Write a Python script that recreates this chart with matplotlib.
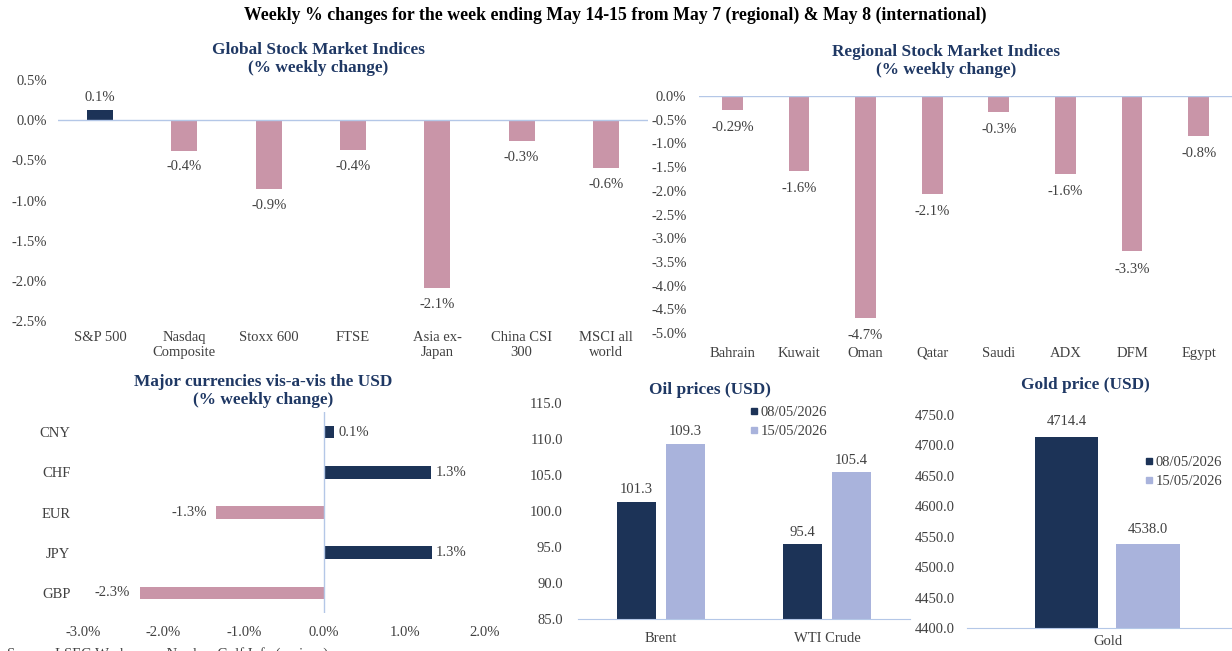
import matplotlib
matplotlib.use("Agg")
import matplotlib.pyplot as plt
from matplotlib.lines import Line2D

# data
global_names = ["S&P 500", "Nasdaq\nComposite", "Stoxx 600", "FTSE", "Asia ex-\nJapan", "China CSI\n300", "MSCI all\nworld"]
global_chg = [0.13, -0.38, -0.86, -0.37, -2.09, -0.26, -0.60]

regional_names = ["Bahrain", "Kuwait", "Oman", "Qatar", "Saudi", "ADX", "DFM", "Egypt"]
regional_chg = [-0.29, -1.59, -4.68, -2.06, -0.33, -1.64, -3.28, -0.84]
regional_labels = ["-0.29%", "-1.6%", "-4.7%", "-2.1%", "-0.3%", "-1.6%", "-3.3%", "-0.8%"]

fx_names = ["CNY", "CHF", "EUR", "JPY", "GBP"]
fx_chg = [0.12, 1.33, -1.34, 1.34, -2.29]

oil_names = ["Brent", "WTI Crude"]
oil_prev = [101.3, 95.4]
oil_curr = [109.3, 105.4]

gold_names = ["Gold"]
gold_prev = [4714.4]
gold_curr = [4538.0]

dates = ["08/05/2026", "15/05/2026"]

NAVY = "#1c3357"
LIGHT = "#a9b3dc"
PINK = "#c995a8"
TITLE = "#1f3864"
TXT = "#404040"
AXIS = "#b4c7e7"

plt.rcParams["font.family"] = ["Liberation Serif", "DejaVu Serif"]
plt.rcParams["font.size"] = 10.5

W, H = 1232, 651
fig = plt.figure(figsize=(W / 100, H / 100), dpi=100)


def px_axes(l, t, r, b):
    return fig.add_axes([l / W, 1 - b / H, (r - l) / W, (b - t) / H])


def clean(ax, pad_x=4, pad_y=4):
    for s in ax.spines.values():
        s.set_visible(False)
    ax.tick_params(length=0, colors=TXT, labelsize=10.5)
    ax.tick_params(axis="x", pad=pad_x)
    ax.tick_params(axis="y", pad=pad_y)


def ftext(x, y, s, **kw):
    fig.text(x / W, 1 - y / H, s, ha="center", va="center", **kw)


ftext(615, 15, "Weekly % changes for the week ending May 14-15 from May 7 (regional) & May 8 (international)",
      fontsize=12.8, fontweight="bold", color="black")

# Global stock market indices
ax = px_axes(58, 80, 648, 321)
clean(ax, pad_x=7, pad_y=8)
cols = [NAVY if v >= 0 else PINK for v in global_chg]
ax.bar(range(len(global_names)), global_chg, width=0.31, color=cols)
ax.axhline(0, color=AXIS, lw=1)
ax.set_xlim(-0.5, 6.5)
ax.set_ylim(-2.5, 0.5)
gt_ = [0.5, 0.0, -0.5, -1.0, -1.5, -2.0, -2.5]
ax.set_yticks(gt_)
ax.set_yticklabels([f"{t:.1f}%" for t in gt_])
ax.set_xticks(range(len(global_names)))
ax.set_xticklabels(global_names, linespacing=1.25)
for i, v in enumerate(global_chg):
    if v >= 0:
        ax.annotate(f"{v:.1f}%", (i, v), xytext=(0, 4), textcoords="offset points",
                    ha="center", va="bottom", color=TXT)
    else:
        ax.annotate(f"{v:.1f}%", (i, v), xytext=(0, -7), textcoords="offset points",
                    ha="center", va="top", color=TXT)
ftext(318, 59, "Global Stock Market Indices\n(% weekly change)", fontsize=12.4, fontweight="bold",
      color=TITLE, linespacing=1.15)

# Regional stock market indices
ax = px_axes(699, 96, 1232, 333)
clean(ax, pad_x=10, pad_y=9)
ax.bar(range(len(regional_names)), regional_chg, width=0.31, color=PINK)
ax.axhline(0, color=AXIS, lw=1)
ax.set_xlim(-0.5, 7.5)
ax.set_ylim(-5.0, 0.0)
rt = [0.0 - 0.5 * k for k in range(11)]
ax.set_yticks(rt)
ax.set_yticklabels([f"{t:.1f}%" for t in rt])
ax.set_xticks(range(len(regional_names)))
ax.set_xticklabels(regional_names)
for i, v in enumerate(regional_chg):
    ax.annotate(regional_labels[i], (i, v), xytext=(0, -8), textcoords="offset points",
                ha="center", va="top", color=TXT)
ftext(946, 61, "Regional Stock Market Indices\n(% weekly change)", fontsize=12.4, fontweight="bold",
      color=TITLE, linespacing=1.15)

# Currencies
ax = px_axes(83, 412, 485, 613)
clean(ax, pad_x=9, pad_y=9)
cols = [NAVY if v >= 0 else PINK for v in fx_chg]
ax.barh(range(len(fx_names)), fx_chg, height=0.31, color=cols)
ax.axvline(0, color=AXIS, lw=1)
ax.set_xlim(-3, 2)
ax.set_ylim(len(fx_names) - 0.5, -0.5)
xt = [-3.0, -2.0, -1.0, 0.0, 1.0, 2.0]
ax.set_xticks(xt)
ax.set_xticklabels([f"{t:.1f}%" for t in xt])
ax.set_yticks(range(len(fx_names)))
ax.set_yticklabels(fx_names)
for i, v in enumerate(fx_chg):
    if v >= 0:
        ax.annotate(f"{v:.1f}%", (v, i), xytext=(3, 0), textcoords="offset points",
                    ha="left", va="center", color=TXT)
    else:
        ax.annotate(f"{v:.1f}%", (v, i), xytext=(-7, 0), textcoords="offset points",
                    ha="right", va="center", color=TXT)
ftext(263, 391, "Major currencies vis-a-vis the USD\n(% weekly change)", fontsize=12.4, fontweight="bold",
      color=TITLE, linespacing=1.15)


def legend(ax, loc_xy):
    handles = [Line2D([], [], marker="s", ls="none", color=NAVY, markersize=5),
               Line2D([], [], marker="s", ls="none", color=LIGHT, markersize=5)]
    ax.legend(handles, dates, loc="upper left", bbox_to_anchor=loc_xy, bbox_transform=fig.transFigure,
              frameon=False, handlelength=0.6, handletextpad=0.2, labelspacing=0.35,
              borderpad=0, fontsize=10.5, labelcolor=TXT)


# Oil prices
ax = px_axes(578, 403, 910, 619)
clean(ax, pad_x=9, pad_y=11)
xs = range(len(oil_names))
ax.bar([x - 0.148 for x in xs], oil_prev, width=0.23, color=NAVY)
ax.bar([x + 0.148 for x in xs], oil_curr, width=0.23, color=LIGHT)
ax.spines["bottom"].set_visible(True)
ax.spines["bottom"].set_color(AXIS)
ax.set_xlim(-0.5, 1.5)
ax.set_ylim(85, 115)
yt = [85 + 5 * k for k in range(7)]
ax.set_yticks(yt)
ax.set_yticklabels([f"{t:.1f}" for t in yt])
ax.set_xticks(list(xs))
ax.set_xticklabels(oil_names)
for i in xs:
    for dx, v in ((-0.148, oil_prev[i]), (0.148, oil_curr[i])):
        ax.annotate(f"{v:.1f}", (i + dx, v), xytext=(0, 4), textcoords="offset points",
                    ha="center", va="bottom", color=TXT)
ftext(710, 390, "Oil prices (USD)", fontsize=12.4, fontweight="bold", color=TITLE)
legend(ax, (742 / W, 1 - 399 / H))

# Gold price
ax = px_axes(967, 415, 1232, 628)
clean(ax, pad_x=5, pad_y=8.5)
ax.bar([-0.153], gold_prev, width=0.238, color=NAVY)
ax.bar([0.153], gold_curr, width=0.238, color=LIGHT)
ax.spines["bottom"].set_visible(True)
ax.spines["bottom"].set_color(AXIS)
ax.set_xlim(-0.53, 0.47)
ax.set_ylim(4400, 4750)
gt = [4400 + 50 * k for k in range(8)]
ax.set_yticks(gt)
ax.set_yticklabels([f"{t:.1f}" for t in gt])
ax.set_xticks([0])
ax.set_xticklabels(gold_names)
for dx, v in ((-0.153, gold_prev[0]), (0.153, gold_curr[0])):
    ax.annotate(f"{v:.1f}", (dx, v), xytext=(0, 6), textcoords="offset points",
                ha="center", va="bottom", color=TXT)
ftext(1085, 385, "Gold price (USD)", fontsize=12.4, fontweight="bold", color=TITLE)
legend(ax, (1137 / W, 1 - 449 / H))

# source line, cut by the bottom edge as in the original
fig.text(7 / W, 1 - 647 / H, "Source: LSEG Workspace, Nasdaq, Gulf Info (various)",
         ha="left", va="top", fontsize=10.5, color=TXT)

fig.savefig("out.png", dpi=100)
